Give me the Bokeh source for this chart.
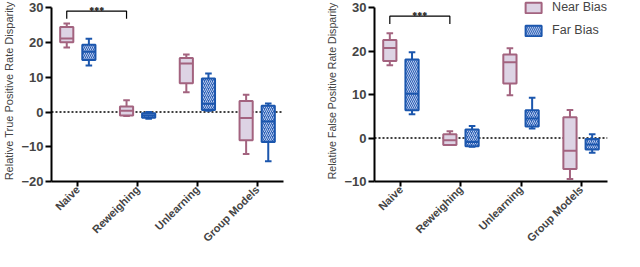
from bokeh.plotting import figure
from bokeh.layouts import row
from bokeh.models import (ColumnDataSource, FactorRange, SingleIntervalTicker, Span,
                          Legend, LegendItem, Range1d)
from bokeh.transform import dodge
from bokeh.embed import file_html
from bokeh.resources import INLINE
from math import pi

categories = ["Naive", "Reweighing", "Unlearning", "Group Models"]
far_hatch = ["\\", "/", "/", "/"]

# Relative True Positive Rate Disparity
tpr_near_max = [25.5, 3.4, 16.6, 5.0]
tpr_near_q3 = [24.5, 1.6, 15.6, 3.2]
tpr_near_med = [21.2, 0.4, 14.0, -1.7]
tpr_near_q1 = [20.1, -1.0, 8.3, -8.1]
tpr_near_min = [18.6, -1.1, 5.7, -12.1]
tpr_far_max = [21.1, 0.0, 11.1, 2.5]
tpr_far_q3 = [19.4, -0.3, 9.7, 1.8]
tpr_far_med = [17.4, -1.0, 2.4, -2.7]
tpr_far_q1 = [15.0, -1.6, 0.6, -8.6]
tpr_far_min = [13.4, -1.9, 0.4, -14.2]

# Relative False Positive Rate Disparity
fpr_near_max = [24.2, 1.6, 20.7, 6.5]
fpr_near_q3 = [22.6, 0.9, 19.3, 4.8]
fpr_near_med = [20.8, -0.5, 17.5, -2.9]
fpr_near_q1 = [17.8, -1.6, 12.6, -7.1]
fpr_near_min = [16.8, -1.6, 9.9, -9.4]
fpr_far_max = [19.8, 2.8, 9.3, 0.9]
fpr_far_q3 = [18.1, 2.0, 6.4, -0.2]
fpr_far_med = [10.2, -0.9, 4.5, -1.5]
fpr_far_q1 = [6.4, -1.9, 2.7, -2.6]
fpr_far_min = [5.5, -2.0, 2.2, -3.4]

# significance bracket: (from, to, y bottom, y top, text)
tpr_sig = ("Naive", "Reweighing", 26.9, 29.1, "***")
fpr_sig = ("Naive", "Reweighing", 26.3, 28.1, "***")

NEAR_LINE = "#A3637F"
NEAR_FILL = "#DDD3E4"
FAR_LINE = "#1B56AD"
FAR_FILL = "#2A60B5"
FAR_HATCH = "#BBCBEE"
FONT = "Liberation Sans"

OFF = 0.185
BOX_W = 0.22
CAP = 0.11


def make_panel(ylabel, ylabel_size, ybounds, ytop, near, far, sig, width, mbl, mbr,
               legend=False):
    p = figure(x_range=FactorRange(factors=categories, range_padding=-0.03,
                                   range_padding_units="percent"),
               y_range=Range1d(ybounds[0], ytop), width=width, height=251,
               output_backend="svg", toolbar_location=None, min_border_top=0,
               min_border_left=mbl, min_border_right=mbr, min_border_bottom=0)
    p.outline_line_color = None
    p.grid.visible = False
    p.background_fill_color = None
    p.border_fill_color = None

    p.add_layout(Span(location=0, dimension="width", line_color="black",
                      line_dash="2 2", line_width=1.5, level="underlay"))

    rends = []
    for stats, off, lc, fc, is_far in ((near, -OFF, NEAR_LINE, NEAR_FILL, False),
                                       (far, OFF, FAR_LINE, FAR_FILL, True)):
        mx, q3, md, q1, mn = stats
        src = ColumnDataSource(dict(cat=categories, mx=mx, q3=q3, md=md, q1=q1, mn=mn,
                                    hatch=far_hatch))
        xc = dodge("cat", off, range=p.x_range)
        xl = dodge("cat", off - CAP / 2, range=p.x_range)
        xr = dodge("cat", off + CAP / 2, range=p.x_range)
        ml = dodge("cat", off - BOX_W / 2, range=p.x_range)
        mr = dodge("cat", off + BOX_W / 2, range=p.x_range)
        p.segment(x0=xc, x1=xc, y0="q3", y1="mx", source=src, line_color=lc, line_width=2)
        p.segment(x0=xc, x1=xc, y0="q1", y1="mn", source=src, line_color=lc, line_width=2)
        p.segment(x0=xl, x1=xr, y0="mx", y1="mx", source=src, line_color=lc, line_width=2)
        p.segment(x0=xl, x1=xr, y0="mn", y1="mn", source=src, line_color=lc, line_width=2)
        if is_far:
            r = p.vbar(x=xc, width=BOX_W, bottom="q1", top="q3", source=src,
                       fill_color=fc, line_color=lc, line_width=2,
                       hatch_pattern="hatch", hatch_color=FAR_HATCH,
                       hatch_scale=4, hatch_weight=1)
        else:
            r = p.vbar(x=xc, width=BOX_W, bottom="q1", top="q3", source=src,
                       fill_color=fc, line_color=lc, line_width=2)
        p.segment(x0=ml, x1=mr, y0="md", y1="md", source=src, line_color=lc, line_width=2)
        rends.append(r)

    a, b, y0, y1, txt = sig
    xa = categories.index(a) + 0.5 - OFF
    xb = categories.index(b) + 0.5 - OFF
    p.line(x=[xa, xa, xb, xb], y=[y0, y1, y1, y0], line_color="black", line_width=1.2)
    p.text(x=[(xa + xb) / 2], y=[y1], text=[txt], text_align="center",
           text_baseline="middle", text_font_size="10px", text_font_style="bold",
           text_font=FONT, y_offset=-1)

    ya = p.yaxis[0]
    ya.bounds = ybounds
    ya.ticker = SingleIntervalTicker(interval=10)
    ya.minor_tick_line_color = None
    ya.axis_label = ylabel
    ya.axis_label_text_font = FONT
    ya.axis_label_text_font_style = "normal"
    ya.axis_label_text_font_size = ylabel_size
    ya.axis_label_standoff = 3
    ya.major_label_text_font = FONT
    ya.major_label_text_font_style = "bold"
    ya.major_label_text_font_size = "13px"
    ya.major_label_standoff = 2
    ya.major_tick_out = 6
    ya.major_tick_in = 0
    ya.axis_line_width = 2
    ya.major_tick_line_width = 2

    xa_ = p.xaxis[0]
    xa_.major_label_orientation = pi / 4
    xa_.major_label_text_font = FONT
    xa_.major_label_text_font_style = "bold"
    xa_.major_label_text_font_size = "11px"
    xa_.major_label_standoff = 1
    xa_.axis_label_standoff = 0
    xa_.major_tick_out = 5
    xa_.major_tick_in = 0
    xa_.axis_line_width = 2
    xa_.major_tick_line_width = 2

    if legend:
        leg = Legend(items=[LegendItem(label="Near Bias", renderers=[rends[0]], index=0),
                            LegendItem(label="Far Bias", renderers=[rends[1]], index=0)],
                     location="top_right", padding=0, margin=0, spacing=9,
                     glyph_width=20, glyph_height=13, label_height=13,
                     label_standoff=9, border_line_color=None,
                     background_fill_alpha=0, label_text_font=FONT,
                     label_text_font_size="12.5px")
        p.add_layout(leg, "center")
    return p


p1 = make_panel("Relative True Positive Rate Disparity", "11px", (-20, 30), 32.15,
                (tpr_near_max, tpr_near_q3, tpr_near_med, tpr_near_q1, tpr_near_min),
                (tpr_far_max, tpr_far_q3, tpr_far_med, tpr_far_q1, tpr_far_min),
                tpr_sig, 323, 30, 40)
p2 = make_panel("Relative False Positive Rate Disparity", "10.6px", (-10, 30), 31.72,
                (fpr_near_max, fpr_near_q3, fpr_near_med, fpr_near_q1, fpr_near_min),
                (fpr_far_max, fpr_far_q3, fpr_far_med, fpr_far_q1, fpr_far_min),
                fpr_sig, 301, 30, 17, legend=True)

layout = row(p1, p2)
open("out.html", "w").write(file_html(layout, INLINE))
